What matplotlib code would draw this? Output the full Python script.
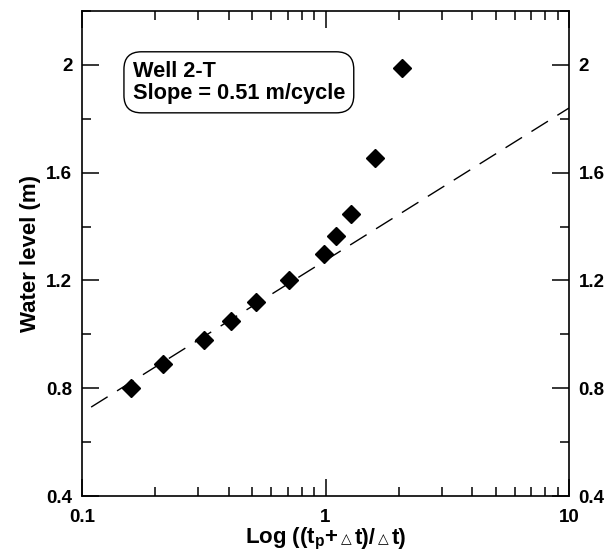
import numpy as np
import matplotlib.pyplot as plt
from matplotlib.ticker import FixedLocator, FixedFormatter, LogLocator, NullFormatter
from matplotlib.offsetbox import TextArea, HPacker, AnchoredOffsetbox

plt.rcParams['font.family'] = ['Liberation Sans', 'DejaVu Sans']
plt.rcParams['font.weight'] = 'bold'
plt.rcParams['mathtext.fontset'] = 'custom'
plt.rcParams['mathtext.rm'] = 'Liberation Sans:bold'
plt.rcParams['mathtext.it'] = 'Liberation Sans:bold'
plt.rcParams['mathtext.bf'] = 'Liberation Sans:bold'

# data
time_ratio = [0.159, 0.215, 0.317, 0.409, 0.518, 0.708, 0.986, 1.10, 1.27, 1.60, 2.06]
water_level = [0.80, 0.89, 0.98, 1.05, 1.12, 1.20, 1.30, 1.365, 1.445, 1.656, 1.99]

# fitted straight line (semi-log)
fit_x = [0.109, 10.0]
fit_y = [0.73, 1.84]

y_ticks = [0.4, 0.8, 1.2, 1.6, 2.0]
y_labels = ['0.4', '0.8', '1.2', '1.6', '2']
x_ticks = [0.1, 1, 10]
x_labels = ['0.1', '1', '10']

fig = plt.figure(figsize=(6.13, 5.51), dpi=100)
ax = fig.add_axes([0.1338, 0.0998, 0.7944, 0.8802])

ax.plot(time_ratio, water_level, linestyle='none', marker='D', markersize=9.5,
        color='black', zorder=3)
ax.plot(fit_x, fit_y, color='black', linewidth=1.0, dashes=(14, 8))

ax.set_xscale('log')
ax.set_xlim(0.1, 10)
ax.set_ylim(0.4, 2.2)

ax.xaxis.set_major_locator(FixedLocator(x_ticks))
ax.xaxis.set_major_formatter(FixedFormatter(x_labels))
ax.xaxis.set_minor_locator(LogLocator(base=10, subs=np.arange(2, 10)))
ax.xaxis.set_minor_formatter(NullFormatter())
ax.yaxis.set_major_locator(FixedLocator(y_ticks))
ax.yaxis.set_major_formatter(FixedFormatter(y_labels))
ax.yaxis.set_minor_locator(FixedLocator([0.6, 1.0, 1.4, 1.8, 2.2]))

ax.tick_params(which='both', direction='in', top=True, right=True,
               labelright=True, width=1.1, labelsize=13.5)
ax.tick_params(which='major', length=12)
ax.tick_params(which='minor', length=6.5)
ax.tick_params(axis='y', pad=7)
ax.tick_params(axis='x', pad=9)
for sp in ax.spines.values():
    sp.set_linewidth(1.2)

ax.set_ylabel('Water level (m)', fontsize=16, fontweight='bold', labelpad=4)

# x label built from pieces so the triangles can be small
big = dict(fontsize=16, fontweight='bold', family=['Liberation Sans', 'DejaVu Sans'])
small = dict(fontsize=10, fontweight='bold', family=['DejaVu Sans'])
pieces = [TextArea('Log ((t$_{p}$+', textprops=big),
          TextArea('\u25b3', textprops=small),
          TextArea('t)/', textprops=big),
          TextArea('\u25b3', textprops=small),
          TextArea('t)', textprops=big)]
xlab = HPacker(children=pieces, align='baseline', pad=0, sep=2)
anch = AnchoredOffsetbox(loc='upper center', child=xlab, frameon=False,
                         bbox_to_anchor=(0.5, -0.062), bbox_transform=ax.transAxes,
                         borderpad=0, pad=0)
ax.add_artist(anch)

ax.text(0.104, 0.853, 'Well 2-T\nSlope = 0.51 m/cycle', transform=ax.transAxes,
        fontsize=15.7, fontweight='bold', va='center', ha='left', linespacing=1.1,
        bbox=dict(boxstyle='round,pad=0.4,rounding_size=0.8', facecolor='white',
                  edgecolor='black', linewidth=1.0))

plt.savefig('out.png', dpi=100)
